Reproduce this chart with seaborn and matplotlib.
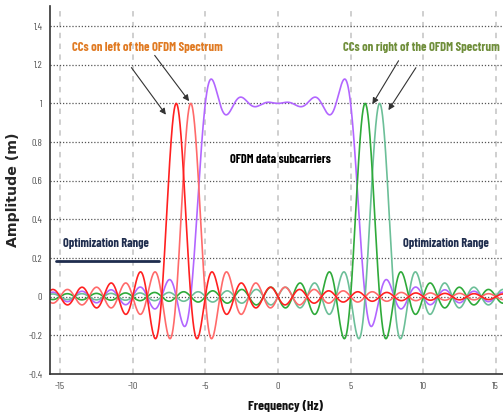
import numpy as np
import pandas as pd
import matplotlib
matplotlib.use("Agg")
import matplotlib.pyplot as plt
import seaborn as sns

# ---- data ----
data_subcarriers = [-5, -4, -3, -2, -1, 0, 1, 2, 3, 4, 5]   # OFDM data subcarrier centres (Hz)
left_ccs = [-7, -6]                                        # cancellation carriers, left
right_ccs = [6, 7]                                         # cancellation carriers, right
x_ticks = [-15, -10, -5, 0, 5, 10, 15]
y_ticks = [-0.4, -0.2, 0, 0.2, 0.4, 0.6, 0.8, 1, 1.2, 1.4]
y_tick_labels = ["-0.4", "-0.2", "0", "0.2", "0.4", "0.6", "0.8", "1", "1.2", "1.4"]
opt_range_left = [-15.3, -8.2]
opt_range_level = 0.187

freq = np.linspace(-16, 16, 3201)
frames = []
spec = np.zeros_like(freq)
for c in data_subcarriers:
    spec = spec + np.sinc(freq - c)
frames.append(pd.DataFrame({"f": freq, "a": spec, "s": "ofdm"}))
for i, c in enumerate(left_ccs):
    frames.append(pd.DataFrame({"f": freq, "a": np.sinc(freq - c), "s": f"L{i}"}))
for i, c in enumerate(right_ccs):
    frames.append(pd.DataFrame({"f": freq, "a": np.sinc(freq - c), "s": f"R{i}"}))
df = pd.concat(frames, ignore_index=True)

sns.set_style("white")
COND = ["Barlow Condensed", "Asap Condensed", "Liberation Sans", "DejaVu Sans"]
plt.rcParams["font.family"] = COND

fig = plt.figure(figsize=(5.03, 4.19), dpi=100)
ax = fig.add_axes([50 / 503, 45 / 419, 453 / 503, 368 / 419])

colors = {"ofdm": "#b266ff", "R1": "#6cbf98", "R0": "#2faa3a", "L1": "#ff6a6a", "L0": "#ff2020"}
for key in ["ofdm", "R1", "R0", "L1", "L0"]:
    sns.lineplot(data=df[df["s"] == key], x="f", y="a", color=colors[key], lw=1.2,
                 ax=ax, legend=False, estimator=None, sort=False)

ax.set_xlim(-15.69, 15.49)
ax.set_ylim(-0.4, 1.504)
ax.set_xticks(x_ticks)
ax.set_xticklabels([str(t) for t in x_ticks])
ax.set_yticks(y_ticks)
ax.set_yticklabels(y_tick_labels)
ax.tick_params(labelsize=7.5, colors="#555555", length=2, width=0.6)

for xt in x_ticks:
    ax.axvline(xt, color="#cccccc", ls=(0, (3, 3)), lw=1.3, zorder=0)
for yt in y_ticks[1:]:
    ax.axhline(yt, color="#555555", ls=(0, (1, 1.5)), lw=0.9, zorder=0.5)

for side in ["top", "right"]:
    ax.spines[side].set_visible(False)
for side in ["left", "bottom"]:
    ax.spines[side].set_color("#333333")
    ax.spines[side].set_linewidth(1.2)

ax.set_xlabel("Frequency (Hz)", fontsize=10, fontweight="bold", color="#111111")
ax.xaxis.set_label_coords(0.52, -0.087)
ax.xaxis.label.set_va("center")
ax.set_ylabel("Amplitude (m)", fontsize=10.2, fontweight="bold", family=["DejaVu Sans"])
ax.yaxis.set_label_coords(-0.0817, 0.5)
ax.yaxis.label.set_va("center")

# annotations
t1 = ax.text(-9.0, 1.287, "CCs on left of the OFDM Spectrum", color="#e07a22",
             fontsize=10, fontweight="bold", ha="center", va="center")
t2 = ax.text(9.88, 1.287, "CCs on right of the OFDM Spectrum", color="#6f8e3a",
             fontsize=10, fontweight="bold", ha="center", va="center")
t3 = ax.text(0.17, 0.71, "OFDM data subcarriers", color="black",
             fontsize=10, fontweight="bold", ha="center", va="center")
t4 = ax.text(-11.84, 0.273, "Optimization Range", color="#1f2d4e",
             fontsize=10, fontweight="bold", ha="center", va="center")
t5 = ax.text(11.56, 0.273, "Optimization Range", color="#1f2d4e",
             fontsize=10, fontweight="bold", ha="center", va="center")
ax.plot(opt_range_left, [opt_range_level, opt_range_level], color="#1f2d4e", lw=2)

# fit annotation text widths (pixels) to the reference
renderer = fig.canvas.get_renderer()
for t, target in [(t1, 151), (t2, 157), (t3, 101), (t4, 86), (t5, 86),
                  (ax.xaxis.label, 75)]:
    for _ in range(2):
        w = t.get_window_extent(renderer).width
        t.set_fontsize(t.get_fontsize() * target / w)

arrows = [((-10.2, 1.197), (-7.6, 0.93)), ((-8.6, 1.26), (-6.0, 1.0)),
          ((8.4, 1.233), (6.4, 0.984)), ((9.6, 1.197), (7.5, 0.953))]
for start, end in arrows:
    ax.annotate("", xy=end, xytext=start,
                arrowprops=dict(arrowstyle="-|>", color="#333333", lw=0.8,
                                mutation_scale=9))

fig.savefig("out.png", dpi=100)
